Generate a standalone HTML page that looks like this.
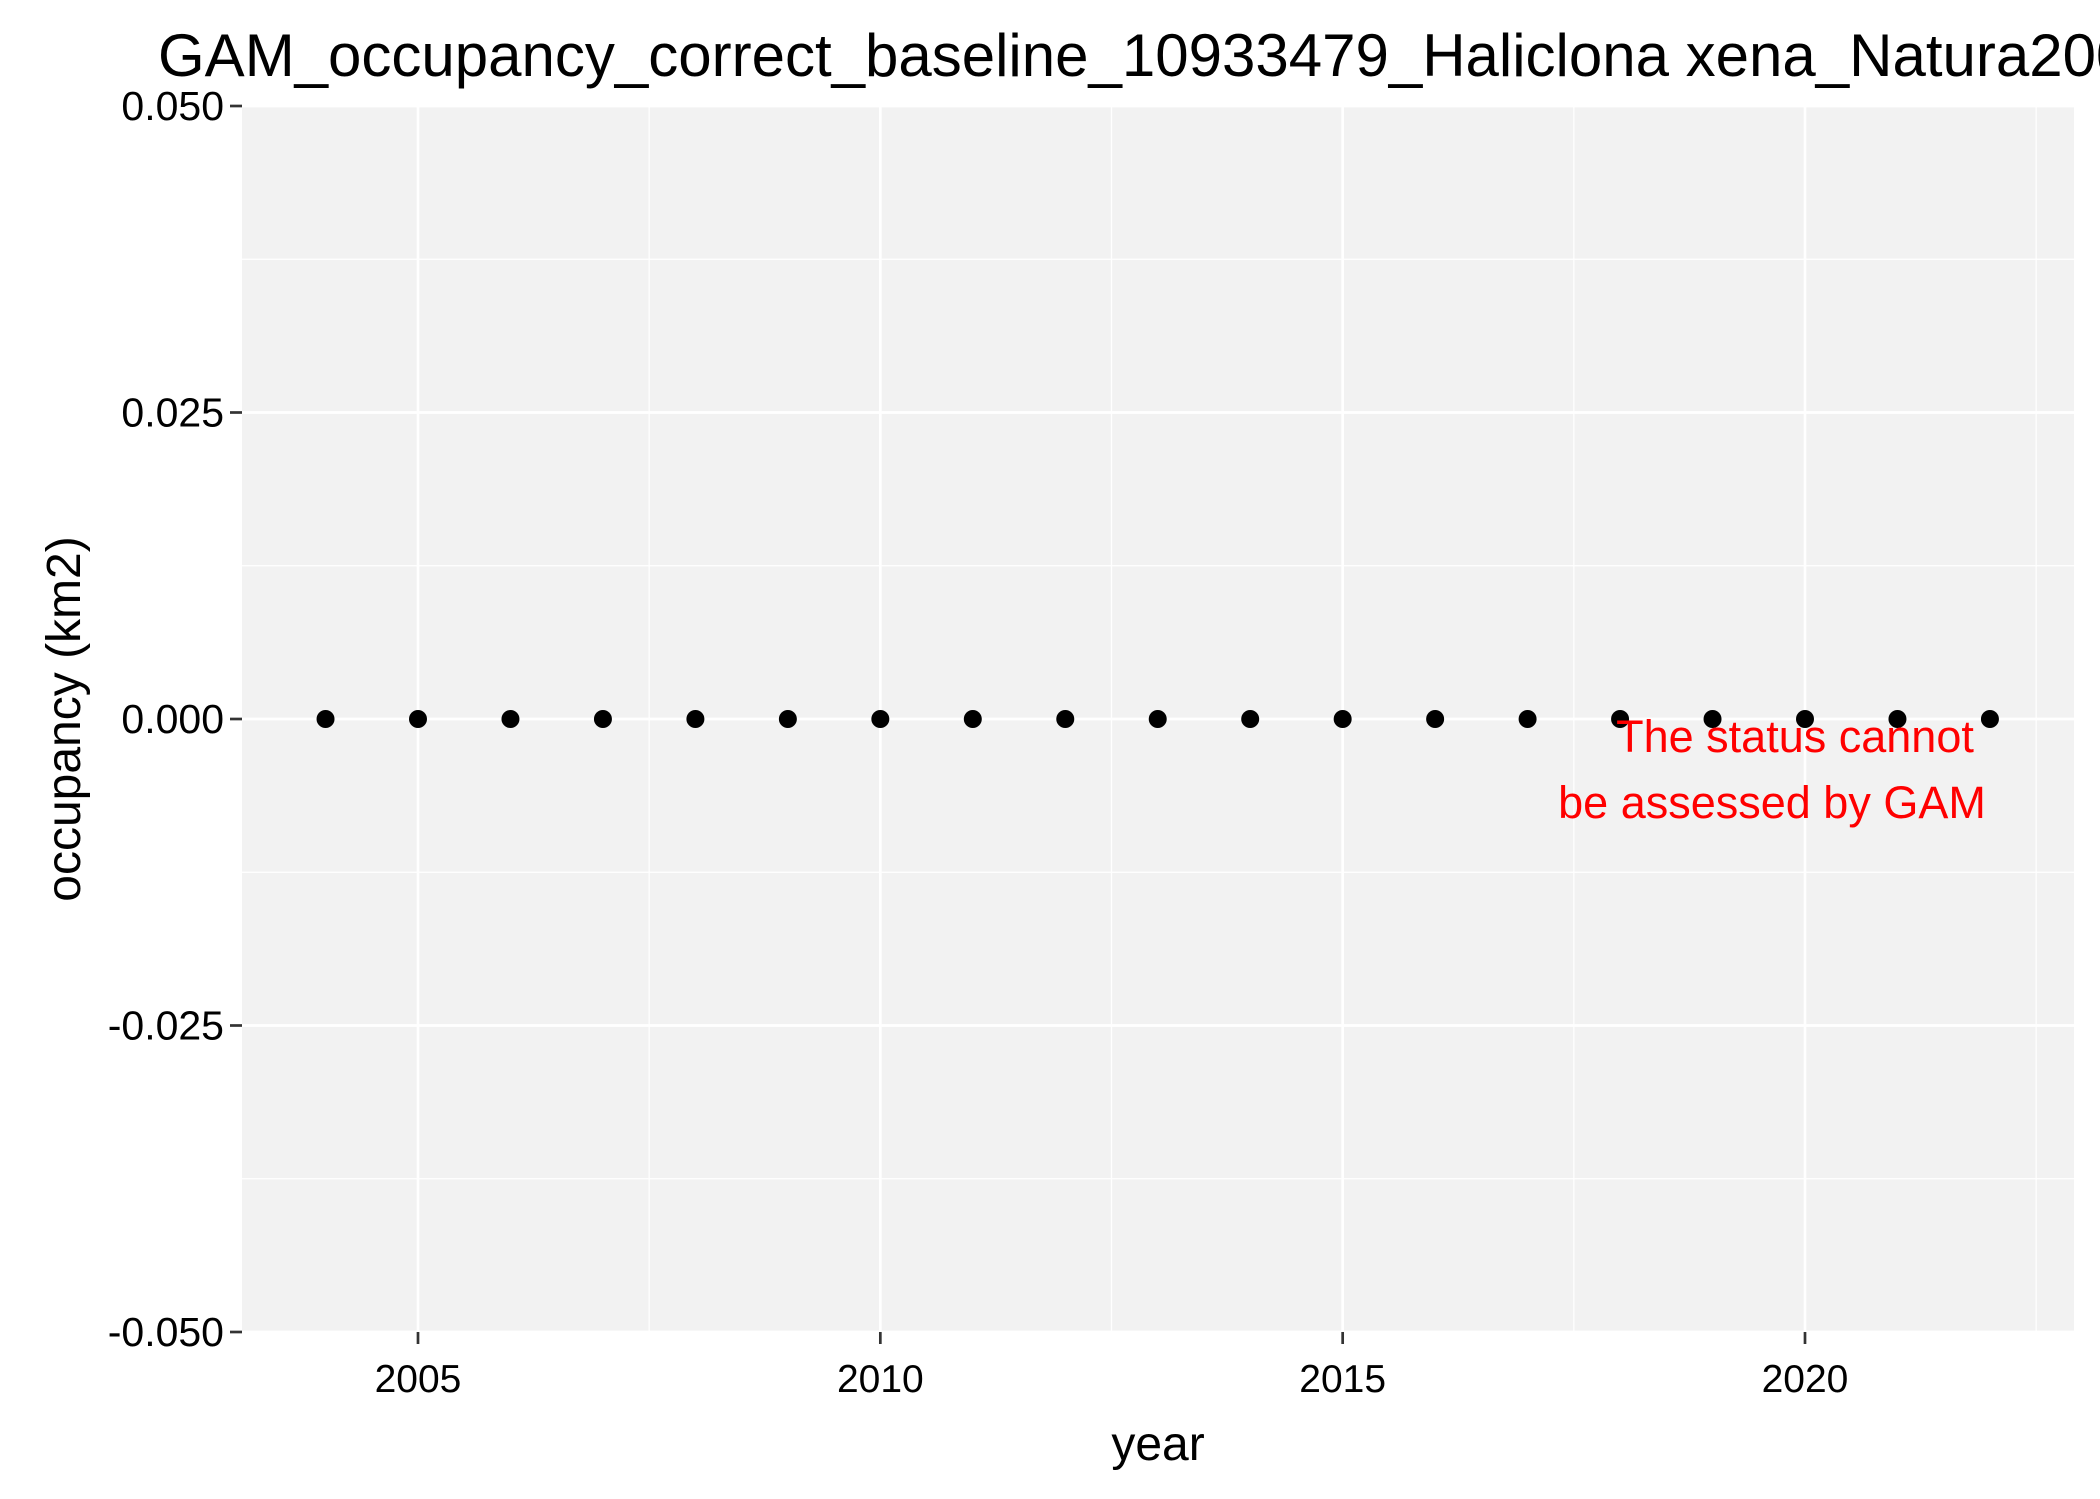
<!DOCTYPE html>
<html><head><meta charset="utf-8"><style>body{margin:0;background:#fff}svg{display:block;font-family:"Liberation Sans",sans-serif}</style></head>
<body>
<svg id="chart" width="2100" height="1499" viewBox="0 0 2100 1499">
<text x="158" y="76" font-size="60" fill="#000">GAM_occupancy_correct_baseline_10933479_Haliclona xena_Natura2000</text>
<rect x="242" y="106" width="1832" height="1226" fill="#f2f2f2"/>
<g id="grid"></g><g id="axes"></g><g id="pts"></g>
<text x="1795" y="752" font-size="45" fill="#ff0000" text-anchor="middle">The status cannot</text>
<text x="1772" y="818" font-size="45" fill="#ff0000" text-anchor="middle">be assessed by GAM</text>
<text x="1158" y="1460" font-size="48" text-anchor="middle">year</text>
<text transform="translate(80,719) rotate(-90)" font-size="48" text-anchor="middle">occupancy (km2)</text>
</svg>
<script>
const years=[2004,2005,2006,2007,2008,2009,2010,2011,2012,2013,2014,2015,2016,2017,2018,2019,2020,2021,2022];
const occupancy=[0,0,0,0,0,0,0,0,0,0,0,0,0,0,0,0,0,0,0];
const xTicks=[2005,2010,2015,2020];
const xTickLabels=["2005","2010","2015","2020"];
const yTicks=[0.05,0.025,0,-0.025,-0.05];
const yTickLabels=["0.050","0.025","0.000","-0.025","-0.050"];
const NS="http://www.w3.org/2000/svg";
const L=242,R=2074,T=106,B=1332;
const x=v=>418+(v-2005)*(1805-418)/15;
const y=v=>T+(0.05-v)/0.1*(B-T);
function mk(tag,a,p){const e=document.createElementNS(NS,tag);for(const k in a)e.setAttribute(k,a[k]);p.appendChild(e);return e;}
const g=document.getElementById('grid'),ax=document.getElementById('axes'),pts=document.getElementById('pts');
for(let i=0;i<yTicks.length-1;i++){const m=(yTicks[i]+yTicks[i+1])/2;
 const l=mk('line',{x1:L,x2:R,y1:y(m),y2:y(m),stroke:'#fff','stroke-width':1.3},g);
 
 }
for(let i=0;i<=xTicks.length;i++){const m=(i===0?xTicks[0]-2.5:xTicks[i-1]+2.5);
 const l=mk('line',{x1:x(m),x2:x(m),y1:T,y2:B,stroke:'#fff','stroke-width':1.3},g);
 
 }
yTicks.forEach((v,i)=>{
 const l=mk('line',{x1:L,x2:R,y1:y(v),y2:y(v),stroke:'#fff','stroke-width':2.7},g);
 
 
 const t=mk('line',{x1:230,x2:L,y1:y(v),y2:y(v),stroke:'#333','stroke-width':2.7},ax);
 
 
 const tx=mk('text',{x:224,y:y(v)+14,'font-size':41,'text-anchor':'end',fill:'#000'},ax);
 tx.textContent=yTickLabels[i];
 
 });
xTicks.forEach((v,i)=>{
 const l=mk('line',{x1:x(v),x2:x(v),y1:T,y2:B,stroke:'#fff','stroke-width':2.7},g);
 
 
 const t=mk('line',{x1:x(v),x2:x(v),y1:B,y2:B+12,stroke:'#333','stroke-width':2.7},ax);
 
 
 const tx=mk('text',{x:x(v),y:1392,'font-size':39,'text-anchor':'middle',fill:'#000'},ax);
 tx.textContent=xTickLabels[i];
 
 });
years.forEach((yr,i)=>{
 const c=mk('circle',{cx:x(yr),cy:y(occupancy[i]),r:9,fill:'#000'},pts);
 
 });
</script>
</body></html>
